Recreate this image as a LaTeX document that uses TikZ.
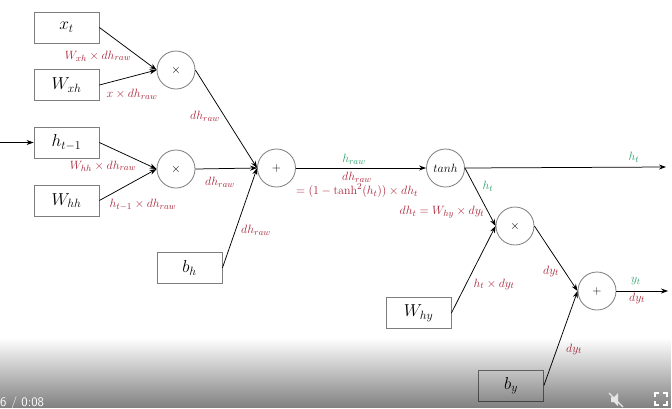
\documentclass[tikz,border=0pt]{standalone}
\usetikzlibrary{arrows.meta,fadings}
\definecolor{lblred}{RGB}{170,40,60}
\definecolor{lblgreen}{RGB}{50,160,110}
\definecolor{shapegray}{RGB}{125,125,125}
\tikzfading[name=barfade, top color=transparent!100, bottom color=transparent!0]
\begin{document}
\begin{tikzpicture}[x=1pt,y=-1pt,
 varbox/.style={draw=shapegray, line width=0.8pt, minimum width=65pt, minimum height=31pt, inner sep=0pt, font=\fontsize{17.5}{19}\selectfont},
 opnode/.style={circle, draw=shapegray, line width=0.8pt, minimum size=38pt, inner sep=0pt, font=\fontsize{12.5}{14}\selectfont},
 arr/.style={-{Stealth[length=7pt,width=5pt]}, line width=0.75pt},
 rlbl/.style={text=lblred, font=\fontsize{13}{15}\selectfont, inner sep=0pt},
 glbl/.style={text=lblgreen, font=\fontsize{13}{15}\selectfont, inner sep=0pt},
]
\useasboundingbox (0,0) rectangle (672,408);
\fill[white] (0,0) rectangle (672,408);
% boxes
\node[varbox] (xt) at (66.5,27.5) {$x_t$};
\node[varbox] (wxh) at (66.5,85) {$W_{xh}$};
\node[varbox] (htm) at (66.5,142.5) {$h_{t-1}$};
\node[varbox] (whh) at (66.5,200.5) {$W_{hh}$};
\node[varbox] (bh) at (189.5,268) {$b_h$};
\node[varbox] (why) at (418.5,313) {$W_{hy}$};
\node[varbox] (by) at (511,385.5) {$b_y$};
% operations
\node[opnode] (m1) at (176,70) {$\times$};
\node[opnode] (m2) at (176,169) {$\times$};
\node[opnode] (p1) at (276.5,168) {$+$};
\node[opnode] (th) at (445.5,168) {$tanh$};
\node[opnode] (m3) at (515,226) {$\times$};
\node[opnode] (p2) at (597,291) {$+$};
\coordinate (hin) at (0,142.5);
\coordinate (hout) at (666,167);
\coordinate (yout) at (668,291);
% connectors
\draw[arr] (xt.east) -- (m1.west);
\draw[arr] (wxh.east) -- (m1.west);
\draw[arr] (hin) -- (htm.west);
\draw[arr] (htm.east) -- (m2.west);
\draw[arr] (whh.east) -- (m2.west);
\draw[arr] (m1.east) -- (p1.west);
\draw[arr] (m2.east) -- (p1.west);
\draw[arr] (bh.east) -- (p1.west);
\draw[arr] (p1.east) -- (th.west);
\draw[arr] (th.east) -- (hout);
\draw[arr] (th.east) -- (m3.west);
\draw[arr] (why.east) -- (m3.west);
\draw[arr] (m3.east) -- (p2.west);
\draw[arr] (by.east) -- (p2.west);
\draw[arr] (p2.east) -- (yout);
% labels
\node[rlbl] (l1) at (98,56) {$W_{xh}\times dh_{raw}$};
\node[rlbl] (l2) at (132,94) {$x\times dh_{raw}$};
\node[rlbl] (l3) at (205,116) {$dh_{raw}$};
\node[rlbl] (l4) at (103,166) {$W_{hh}\times dh_{raw}$};
\node[rlbl] (l5) at (143,205) {$h_{t-1}\times dh_{raw}$};
\node[rlbl] (l6) at (220,182) {$dh_{raw}$};
\node[rlbl] (l7) at (256,230) {$dh_{raw}$};
\node[glbl] (l8) at (354,159) {$h_{raw}$};
\node[rlbl] (l9) at (357,177) {$dh_{raw}$};
\node[rlbl] (l10) at (357,191) {$=(1-\tanh^2(h_t))\times dh_t$};
\node[glbl] (l11) at (488,186) {$h_t$};
\node[rlbl] (l12) at (442,212) {$dh_t=W_{hy}\times dy_t$};
\node[glbl] (l13) at (634,157) {$h_t$};
\node[rlbl] (l14) at (494,284) {$h_t\times dy_t$};
\node[rlbl] (l15) at (551,271) {$dy_t$};
\node[glbl] (l16) at (636,281) {$y_t$};
\node[rlbl] (l17) at (637,298) {$dy_t$};
\node[rlbl] (l18) at (574,349) {$dy_t$};
% video player overlay
\fill[black, fill opacity=0.5, path fading=barfade] (0,338) rectangle (672,408);
\node[anchor=base west, text=white, font=\sffamily\fontsize{13}{15}\selectfont, inner sep=0pt] (time) at (0,406) {6 / 0:08};
\fill[white!80!gray] (611,397) -- (614,397) -- (618,393) -- (618,406) -- (614,402) -- (611,402) -- cycle;
\draw[white!80!gray, line width=1.2pt] (609,393) -- (623,407);
\draw[white, line width=1.5pt] (655,397) -- (655,393) -- (659,393);
\draw[white, line width=1.5pt] (663,393) -- (667,393) -- (667,397);
\draw[white, line width=1.5pt] (655,401) -- (655,405) -- (659,405);
\draw[white, line width=1.5pt] (663,405) -- (667,405) -- (667,401);
\end{tikzpicture}
\end{document}
